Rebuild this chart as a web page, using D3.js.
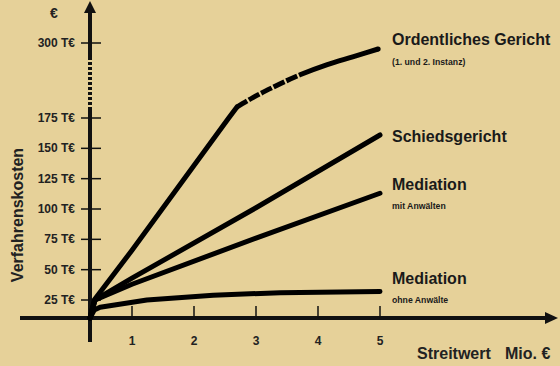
<!DOCTYPE html>
<html><head><meta charset="utf-8">
<script src="https://cdn.jsdelivr.net/npm/d3@7"></script>
<style>
html,body{margin:0;padding:0;background:#e6d199;}
svg{display:block;font-family:"Liberation Sans",Arial,sans-serif;font-weight:bold;}
</style></head>
<body>
<svg id="chart" width="560" height="366"></svg>
<script>
// ---- data ----
const xTicks = [1, 2, 3, 4, 5];
const yTicks = [25, 50, 75, 100, 125, 150, 175, 300];
const yTickLabels = ["25 T€", "50 T€", "75 T€", "100 T€", "125 T€", "150 T€", "175 T€", "300 T€"];
const seriesNames = ["Ordentliches Gericht", "Schiedsgericht", "Mediation", "Mediation"];
const seriesSubNames = ["(1. und 2. Instanz)", "", "mit Anwälten", "ohne Anwälte"];
const ordentlich = [[0,0],[0.1,25],[1,66],[2.56,175],[2.69,193],[2.95,209],[3.27,226],[3.71,247],[4.15,264],[4.56,277],[4.97,290]];
const ordentlichDashed = [2.69, 3.71]; // x range drawn dashed
const schieds = [[0,0],[0.12,25],[1,43],[3,101],[5,161]];
const mediationMit = [[0,0],[0.12,25],[1,38],[3,76],[5,113]];
const mediationOhne = [[0,0],[0.1,11],[0.24,15],[1.24,25],[2.31,29],[3.39,31],[5,32]];

// ---- drawing ----
const svg = d3.select("#chart");
const ink = "#111";
const x = d3.scaleLinear().domain([0, 1, 5]).range([90, 132, 380]);
const y = d3.scaleLinear().domain([0, 25, 175, 300]).range([318, 300, 118, 43]);

// y axis (with break)
const ax = x(0);
svg.append("line").attr("x1", ax).attr("x2", ax).attr("y1", 10).attr("y2", 57).attr("stroke", ink).attr("stroke-width", 4);
svg.append("line").attr("x1", ax).attr("x2", ax).attr("y1", 57).attr("y2", 107).attr("stroke", ink).attr("stroke-width", 4).attr("stroke-dasharray", "3,2");
svg.append("line").attr("x1", ax).attr("x2", ax).attr("y1", 107).attr("y2", 342).attr("stroke", ink).attr("stroke-width", 4);
svg.append("path").attr("d", `M${ax},1 L${ax-6},13 L${ax+6},13 Z`).attr("fill", ink);

// x axis
const ay = y(0);
svg.append("line").attr("x1", 20).attr("x2", 548).attr("y1", ay).attr("y2", ay).attr("stroke", ink).attr("stroke-width", 4);
svg.append("path").attr("d", `M558,${ay} L545,${ay-6} L545,${ay+6} Z`).attr("fill", ink);

// y ticks
yTicks.forEach((t, i) => {
  svg.append("line").attr("x1", 81).attr("x2", 101).attr("y1", y(t)).attr("y2", y(t)).attr("stroke", ink).attr("stroke-width", 1.5);
  svg.append("text").attr("x", 75).attr("y", y(t) + 4).attr("text-anchor", "end").attr("font-size", 12).attr("fill", "#222").text(yTickLabels[i]);
});
// x ticks
xTicks.forEach(t => {
  svg.append("line").attr("x1", x(t)).attr("x2", x(t)).attr("y1", 306).attr("y2", ay).attr("stroke", ink).attr("stroke-width", 1.5);
  svg.append("text").attr("x", x(t)).attr("y", 345).attr("text-anchor", "middle").attr("font-size", 12).attr("fill", "#222").text(t);
});

// axis titles
svg.append("text").attr("x", 54).attr("y", 18).attr("text-anchor", "middle").attr("font-size", 14).attr("fill", "#222").text("€");
svg.append("text").attr("transform", "translate(23,215) rotate(-90)").attr("text-anchor", "middle").attr("font-size", 16).attr("fill", "#222").text("Verfahrenskosten");
svg.append("text").attr("x", 417).attr("y", 359).attr("font-size", 16).attr("fill", "#222").text("Streitwert");
svg.append("text").attr("x", 505).attr("y", 359).attr("font-size", 16).attr("fill", "#222").text("Mio. €");

// lines
const line = d3.line().x(d => x(d[0])).y(d => y(d[1]));
function drawLine(data) {
  return svg.append("path").datum(data).attr("d", line).attr("fill", "none").attr("stroke", "#000")
    .attr("stroke-width", 5).attr("stroke-linecap", "round").attr("stroke-linejoin", "round");
}
drawLine(mediationOhne);
drawLine(mediationMit);
drawLine(schieds);
drawLine(ordentlich.filter(d => d[0] <= ordentlichDashed[0]));
// upper part: smooth curve, dashed for first stretch then solid
const upper = ordentlich.filter(d => d[0] >= ordentlichDashed[0]);
const curveLine = d3.line().x(d => x(d[0])).y(d => y(d[1])).curve(d3.curveMonotoneX);
const up = svg.append("path").datum(upper).attr("d", curveLine).attr("fill", "none").attr("stroke", "#000")
  .attr("stroke-width", 5).attr("stroke-linecap", "butt").attr("stroke-linejoin", "round");
const node = up.node();
const total = node.getTotalLength();
const xEnd = x(ordentlichDashed[1]);
let L1 = 0;
for (let l = 0; l <= total; l += 0.5) { if (node.getPointAtLength(l).x >= xEnd) { L1 = l; break; } }
const dashes = [];
let acc = 0;
while (acc + 14 < L1) { dashes.push(12, 2); acc += 14; }
dashes.push(total - acc + 2, 0);
up.attr("stroke-dasharray", dashes.join(","));
// round end cap at the far end
const endP = node.getPointAtLength(total);
svg.append("circle").attr("cx", endP.x).attr("cy", endP.y).attr("r", 2.5).attr("fill", "#000");

// series labels
const labelPos = [[392, 45, 65], [392, 142, 0], [392, 190, 209], [392, 284, 303]];
seriesNames.forEach((n, i) => {
  const [lx, ly, sy] = labelPos[i];
  svg.append("text").attr("x", lx).attr("y", ly).attr("font-size", 16).attr("fill", "#1a1a1a").text(n);
  if (seriesSubNames[i]) svg.append("text").attr("x", lx).attr("y", sy).attr("font-size", 8.7).attr("fill", "#1a1a1a").text(seriesSubNames[i]);
});
</script>
</body></html>
